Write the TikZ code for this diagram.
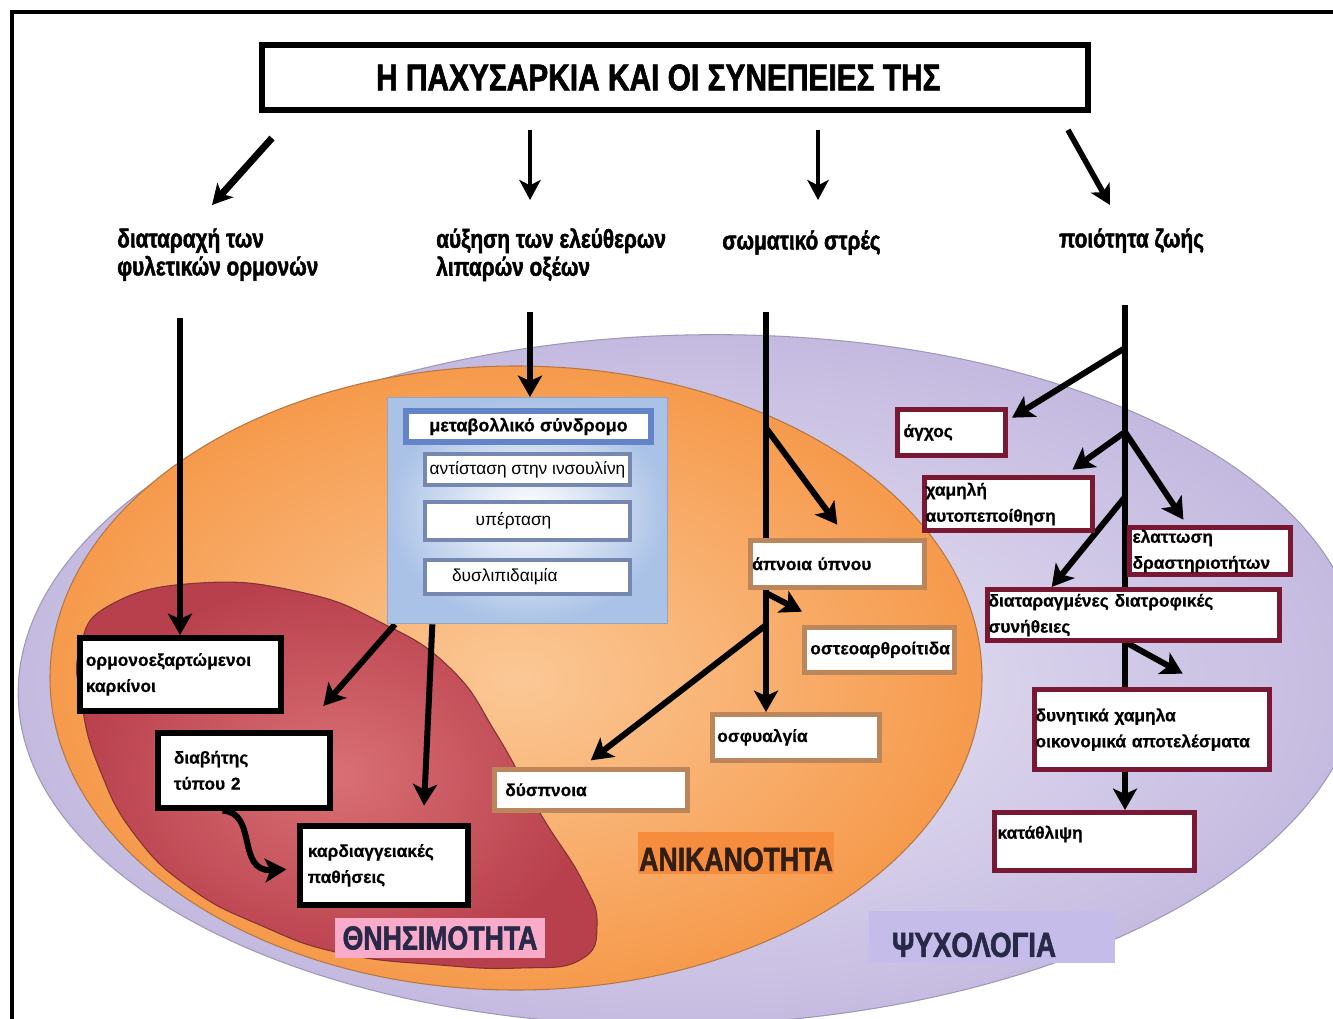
\documentclass[tikz,border=0pt]{standalone}
\usepackage{fontspec}
\setmainfont{Liberation Sans}[BoldFont={Liberation Sans Bold},BoldFeatures={FakeBold=0.6}]
\newfontfamily\condfont{Liberation Sans}[FakeStretch=0.8,BoldFont={Liberation Sans Bold},BoldFeatures={FakeBold=1.6}]
\usetikzlibrary{arrows.meta,calc}
\pgfdeclarelayer{bg}
\pgfdeclarelayer{lines}
\pgfsetlayers{bg,lines,main}
\definecolor{maroonbd}{RGB}{122,24,52}
\definecolor{brownbd}{RGB}{188,134,92}
\definecolor{bluebd}{RGB}{100,132,200}
\definecolor{graybd}{RGB}{118,136,176}
\definecolor{blueA}{RGB}{170,194,230}
\definecolor{blueframe}{RGB}{150,165,190}
\definecolor{lavA}{RGB}{234,230,245}
\definecolor{lavB}{RGB}{196,186,224}
\definecolor{lavD}{RGB}{160,152,185}
\definecolor{orA}{RGB}{251,200,150}
\definecolor{orB}{RGB}{246,154,76}
\definecolor{orD}{RGB}{180,120,70}
\definecolor{redA}{RGB}{218,112,118}
\definecolor{redB}{RGB}{184,64,76}
\definecolor{redD}{RGB}{130,50,50}
\definecolor{orlabel}{RGB}{246,140,62}
\definecolor{pinklabel}{RGB}{248,172,202}
\definecolor{lavlabel}{RGB}{198,188,234}
\definecolor{anikText}{RGB}{50,30,20}
\definecolor{navyText}{RGB}{40,40,72}
\begin{document}
\begin{tikzpicture}[x=0.75pt,y=-0.75pt,
  arr/.style={line width=4.5pt,-{Stealth[length=16pt,width=18pt,inset=4pt]}},
  tarr/.style={line width=3.6pt,-{Stealth[length=15pt,width=16pt,inset=4pt]}},
  bx/.style={draw,line width=3.8pt,fill=white,anchor=north west,align=left,
     font=\bfseries\fontsize{13}{19.5}\selectfont,inner ysep=0pt,text=black},
  blk/.style={bx,draw=black,line width=4.3pt},
  brn/.style={bx,draw=brownbd,line width=3.4pt},
  mar/.style={bx,draw=maroonbd},
  inb/.style={draw=graybd,line width=3pt,fill=white,anchor=north west,align=center,
     inner sep=0pt,font=\fontsize{13}{15}\selectfont},
  toplbl/.style={anchor=north west,align=left,inner sep=0pt,
     font=\condfont\bfseries\fontsize{19.5}{21}\selectfont},
  biglbl/.style={inner sep=0pt,font=\condfont\bfseries\fontsize{25}{28}\selectfont}
]
\useasboundingbox (0,0) rectangle (1333,1019);

% ---------- background ----------
\begin{pgfonlayer}{bg}
\begin{scope}
\clip (0,0) rectangle (1333,1019);
\fill[white] (0,0) rectangle (1333,1019);
\shade[inner color=lavA,outer color=lavB,draw=lavD,line width=0.8pt,
  rotate around={1.5:(690,680)}] (690,680) ellipse [x radius=672,y radius=345];
\shade[inner color=orA,outer color=orB,draw=orD,line width=0.8pt]
  (516,678) ellipse [x radius=466,y radius=312];
\shade[inner color=redA,outer color=redB,draw=redD,line width=0.8pt]
  plot[smooth cycle,tension=0.8] coordinates {(80,648) (112,604) (200,583) (300,592)
   (380,622) (450,668) (497,735) (540,813) (582,880) (597,925) (580,960) (520,968)
   (440,965) (340,953) (260,925) (190,888) (135,835) (100,770) (82,705)};
\draw[line width=3pt] (12,1040) -- (12,12) -- (1345,12);
\end{scope}
\end{pgfonlayer}

% ---------- title and top labels ----------
\node[draw,line width=4.5pt,minimum width=619.5pt,minimum height=48.75pt,inner sep=0pt,
  font=\condfont\bfseries\fontsize{28}{30}\selectfont] (title) at (675,77.5)
  {Η ΠΑΧΥΣΑΡΚΙΑ ΚΑΙ ΟΙ ΣΥΝΕΠΕΙΕΣ ΤΗΣ\hspace*{25pt}};

\node[toplbl] (L1) at (117,228) {διαταραχή των\\φυλετικών ορμονών};
\node[toplbl] (L2) at (436,228) {αύξηση των ελεύθερων\\λιπαρών οξέων};
\node[toplbl] (L3) at (722,230) {σωματικό στρές};
\node[toplbl] (L4) at (1059,228) {ποιότητα ζωής};

% ---------- area labels ----------
\node[biglbl,fill=orlabel,minimum width=147pt,minimum height=31.5pt,text=anikText] (anik) at (736,853) {\rule{0pt}{27pt}ΑΝΙΚΑΝΟΤΗΤΑ};
\node[biglbl,fill=pinklabel,minimum width=157.5pt,minimum height=30pt,text=navyText] (thn) at (440,938) {ΘΝΗΣΙΜΟΤΗΤΑ};
\node[biglbl,fill=lavlabel,minimum width=184pt,minimum height=39pt,text=navyText,
  font=\condfont\bfseries\fontsize{26}{28}\selectfont] (psy) at (992,937) {\rule{0pt}{30pt}ΨΥΧΟΛΟΓΙΑ\hspace*{27pt}};

% ---------- metabolic syndrome panel ----------
\node[draw=blueframe,line width=1pt,shade,inner color=white,outer color=blueA,
  minimum width=210pt,minimum height=169.5pt,anchor=north west,inner sep=0pt] (blue) at (387,397) {};
\node[inb,draw=bluebd,line width=4.5pt,minimum width=183.75pt,minimum height=23.25pt,
  font=\bfseries\fontsize{13.5}{15}\selectfont] (meta) at (403,408) {μεταβολλικό σύνδρομο};
\node[inb,minimum width=153.75pt,minimum height=23.25pt] (insul) at (423,452) {αντίσταση στην ινσουλίνη};
\node[inb,minimum width=153.75pt,minimum height=28.5pt] (hyper) at (423,500) {υπέρταση\hspace*{21pt}};
\node[inb,minimum width=153.75pt,minimum height=25.5pt] (dysl) at (423,558) {δυσλιπιδαιμία\hspace*{34pt}};

% ---------- mortality boxes ----------
\node[blk,minimum width=150.75pt,minimum height=54.75pt,text width=141.75pt,inner xsep=4.5pt] (ormono) at (77,635) {ορμονοεξαρτώμενοι\\καρκίνοι};
\node[blk,minimum width=129pt,minimum height=56.25pt,text width=105pt,inner xsep=12pt] (diab) at (155,730) {διαβήτης\\τύπου 2};
\node[blk,minimum width=126pt,minimum height=59.25pt,text width=114pt,inner xsep=6pt] (kardio) at (297,823) {καρδιαγγειακές\\παθήσεις};

% ---------- disability boxes ----------
\node[brn,minimum width=130.5pt,minimum height=35.25pt,text width=127.5pt,inner xsep=1.5pt] (apnoia) at (748,538) {άπνοια ύπνου};
\node[brn,minimum width=112.5pt,minimum height=33.75pt,text width=103.5pt,inner xsep=4.5pt] (osteo) at (802,625) {οστεοαρθροίτιδα};
\node[brn,minimum width=125.25pt,minimum height=34.5pt,text width=117.75pt,inner xsep=3.75pt] (osfy) at (710,712) {οσφυαλγία};
\node[brn,minimum width=144.75pt,minimum height=30.75pt,text width=128.25pt,inner xsep=8.25pt] (dysp) at (492,767) {δύσπνοια};

% ---------- psychology boxes ----------
\node[mar,minimum width=81pt,minimum height=34.5pt,text width=72pt,inner xsep=4.5pt] (agxos) at (895,407) {άγχος};
\node[mar,minimum width=126pt,minimum height=39.75pt,text width=124.5pt,inner xsep=0.75pt] (xamili) at (922,475) {χαμηλή\\αυτοπεποίθηση};
\node[mar,minimum width=120.75pt,minimum height=35.25pt,text width=116.25pt,inner xsep=2.25pt] (elatt) at (1127,525) {ελαττωση\\δραστηριοτήτων};
\node[mar,minimum width=219pt,minimum height=38.25pt,text width=217.5pt,inner xsep=0.75pt] (diatar) at (985,587) {διαταραγμένες διατροφικές\\συνήθειες};
\node[mar,minimum width=176.25pt,minimum height=60pt,text width=174.75pt,inner xsep=0.75pt] (dynit) at (1032,687) {δυνητικά χαμηλα\\οικονομικά αποτελέσματα};
\node[mar,minimum width=150pt,minimum height=43.5pt,text width=145.5pt,inner xsep=2.25pt] (katath) at (992,810) {κατάθλιψη\rule[-14pt]{0pt}{0pt}};

% ---------- connector end points ----------
\coordinate (a1s) at (272,138); \coordinate (a1e) at (212,205);
\coordinate (a2s) at (530,130); \coordinate (a2e) at (530,200);
\coordinate (a3s) at (818,130); \coordinate (a3e) at (818,200);
\coordinate (a4s) at (1068,130); \coordinate (a4e) at (1110,205);
\coordinate (d1s) at (180,318);
\coordinate (d2s) at (530,312);
\coordinate (s0) at (766,312);
\coordinate (s1) at (766,428);
\coordinate (s2) at (766,593);
\coordinate (s3) at (766,625);
\coordinate (q0) at (1125,305);
\coordinate (qa) at (1125,348);
\coordinate (qb) at (1125,432);
\coordinate (qc) at (1125,497);
\coordinate (qd) at (1127,643);

% ---------- connectors ----------
\begin{pgfonlayer}{lines}
\draw[tarr,line width=5.2pt] (a1s) -- (a1e);
\draw[tarr] (a2s) -- (a2e);
\draw[tarr] (a3s) -- (a3e);
\draw[tarr,line width=4.2pt] (a4s) -- (a4e);

\draw[arr] (d1s) -- (d1s |- ormono.north);
\draw[arr] (d2s) -- (d2s |- blue.north);
\draw[arr] ([xshift=6pt]blue.south west) -- ([xshift=-7pt,yshift=18pt]diab.north east);
\draw[arr] ([xshift=34pt]blue.south west) -- ([xshift=-35pt,yshift=13pt]kardio.north east);
\draw[arr] ([xshift=-16pt]diab.south) .. controls (258,812) and (236,872) .. ([xshift=-8pt,yshift=-3pt]kardio.west);

\draw[arr] (s0) -- (s0 |- osfy.north);
\draw[arr] (s1) -- ([yshift=10pt]apnoia.north);
\draw[arr] (s2) -- ([yshift=10pt]osteo.north west);
\draw[arr] (s3) -- ([yshift=5pt]dysp.north);

\draw[arr] (q0) -- (q0 |- katath.north);
\draw[arr] (qa) -- ([xshift=3pt,yshift=-8pt]agxos.north east);
\draw[arr] (qb) -- ([xshift=-17pt,yshift=4pt]xamili.north east);
\draw[arr] (qb) -- ([xshift=-20pt,yshift=4pt]elatt.north);
\draw[arr] (qc) -- ([xshift=50pt]diatar.north west);
\draw[arr] (qd) -- ([xshift=23pt,yshift=10pt]dynit.north);
\end{pgfonlayer}
\end{tikzpicture}
\end{document}
